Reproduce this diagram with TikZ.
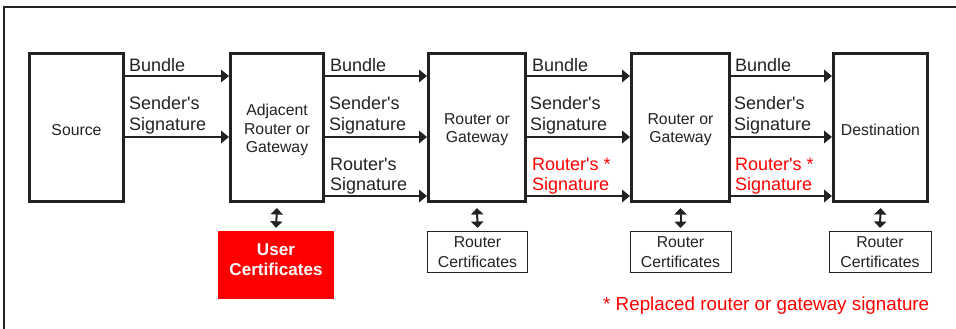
\documentclass[tikz,border=0pt]{standalone}
\usepackage{fontspec}
\setmainfont{Liberation Sans}
\usetikzlibrary{arrows.meta}
\definecolor{ink}{HTML}{222222}
\definecolor{alert}{HTML}{FF0000}
\newcommand{\q}{\textquotesingle}
\begin{document}
\begin{tikzpicture}[x=1pt,y=1pt,
  boxtext/.style={align=center, text=ink, yshift=-2.5pt, inner sep=0pt,
    font=\fontsize{15.8}{18.3}\selectfont},
  hop/.style={draw=ink, line width=2.6pt, minimum height=148.4pt, inner sep=0pt,
    label={[boxtext]center:#1}},
  certbox/.style={draw=ink, line width=1pt, minimum width=100pt, minimum height=41pt,
    inner sep=0pt, align=center, text=ink, font=\fontsize{15.8}{20}\selectfont},
  usercert/.style={fill=alert, minimum width=116pt, minimum height=68pt, inner sep=0pt},
  lbl/.style={anchor=base west, inner sep=0pt, text=ink, font=\fontsize{18}{20}\selectfont},
  redlbl/.style={lbl, text=alert},
  flow/.style={draw=ink, line width=2.2pt, -{Triangle[length=8pt,width=12.5pt]}},
  link/.style={draw=ink, line width=2pt, {Triangle[length=6.5pt,width=12pt]}-{Triangle[length=6.5pt,width=12pt]}},
  frame/.style={draw=ink, line width=2pt}
]
\useasboundingbox (0,0) rectangle (956,-329);

% open frame: left and top edges
\coordinate (fbl) at (4,-329);
\coordinate (ftl) at (4,-7);
\coordinate (ftr) at (956,-7);
\draw[frame] (fbl) -- (ftl) -- (ftr);

% hops along the path
\node[hop={Source}, minimum width=94.4pt] (src) at (76.5,-127.5) {};
\node[hop={Adjacent\\Router or\\Gateway}, minimum width=93.4pt] (adj) at (277,-127.5) {};
\node[hop={Router or\\Gateway}, minimum width=97.4pt] (rg1) at (477,-127.5) {};
\node[hop={Router or\\Gateway}, minimum width=98.4pt] (rg2) at (680.5,-127.5) {};
\node[hop={Destination}, minimum width=94.4pt] (dst) at (880.5,-127.5) {};

% certificate stores
\node[usercert, label={[text=white, align=center, yshift=5pt,
   font=\bfseries\fontsize{17.1}{20}\selectfont]center:User\\Certificates}] (ucert) at (276,-265) {};
\node[certbox] (cert1) at (477.5,-252) {Router\\Certificates};
\node[certbox, minimum width=101pt] (cert2) at (680.5,-252) {Router\\Certificates};
\node[certbox, minimum width=102pt] (cert3) at (880,-252) {Router\\Certificates};

% certificate lookups
\draw[link] ([yshift=-5pt]adj.south) -- ([yshift=3pt]ucert.north);
\draw[link] ([yshift=-5pt]rg1.south) -- ([yshift=3pt]cert1.north);
\draw[link] ([yshift=-5pt]rg2.south) -- ([yshift=3pt]cert2.north);
\draw[link] ([yshift=-5pt]dst.south) -- ([yshift=3pt]cert3.north);

% source -> adjacent router
\draw[flow] (src.east |- 0,-76)  -- (adj.west |- 0,-76);
\draw[flow] (src.east |- 0,-137) -- (adj.west |- 0,-137);
\node[lbl] (b1) at (129,-71) {Bundle};
\node[lbl] (s1a) at (129,-110) {Sender\q s};
\node[lbl] (s1b) at (129,-130) {Signature};

% adjacent router -> router
\draw[flow] (adj.east |- 0,-76)  -- (rg1.west |- 0,-76);
\draw[flow] (adj.east |- 0,-137) -- (rg1.west |- 0,-137);
\draw[flow] (adj.east |- 0,-196) -- (rg1.west |- 0,-196);
\node[lbl] (b2) at (330,-71) {Bundle};
\node[lbl] (s2a) at (329,-110) {Sender\q s};
\node[lbl] (s2b) at (329,-130) {Signature};
\node[lbl] (r2a) at (330,-170) {Router\q s};
\node[lbl] (r2b) at (330,-190) {Signature};

% router -> router
\draw[flow] (rg1.east |- 0,-76)  -- (rg2.west |- 0,-76);
\draw[flow] (rg1.east |- 0,-137) -- (rg2.west |- 0,-137);
\draw[flow] (rg1.east |- 0,-196) -- (rg2.west |- 0,-196);
\node[lbl] (b3) at (532,-71) {Bundle};
\node[lbl] (s3a) at (530,-110) {Sender\q s};
\node[lbl] (s3b) at (530,-130) {Signature};
\node[redlbl] (r3a) at (532,-170) {Router\q s *};
\node[redlbl] (r3b) at (532,-190) {Signature};

% router -> destination
\draw[flow] (rg2.east |- 0,-76)  -- (dst.west |- 0,-76);
\draw[flow] (rg2.east |- 0,-137) -- (dst.west |- 0,-137);
\draw[flow] (rg2.east |- 0,-196) -- (dst.west |- 0,-196);
\node[lbl] (b4) at (735,-71) {Bundle};
\node[lbl] (s4a) at (734,-110) {Sender\q s};
\node[lbl] (s4b) at (734,-130) {Signature};
\node[redlbl] (r4a) at (735,-170) {Router\q s *};
\node[redlbl] (r4b) at (735,-190) {Signature};

% footnote
\node[redlbl, font=\fontsize{18.8}{20}\selectfont] (note) at (603,-310) {* Replaced router or gateway signature};
\end{tikzpicture}
\end{document}
